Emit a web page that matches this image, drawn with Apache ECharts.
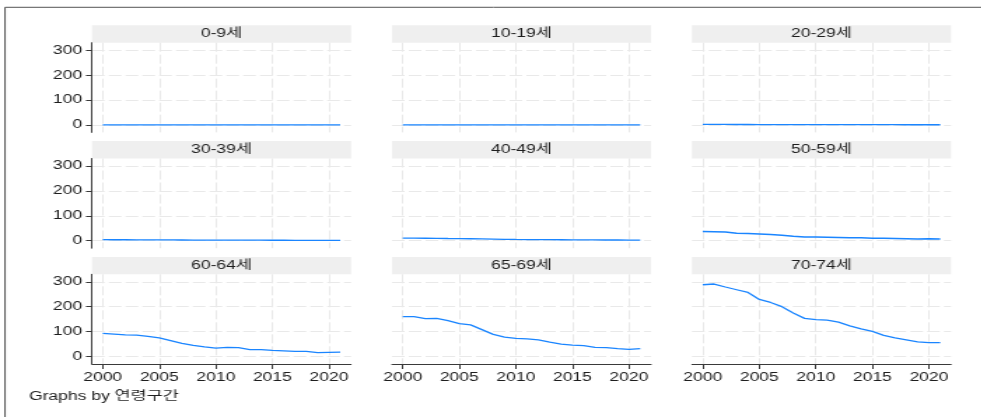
<!DOCTYPE html>
<html>
<head>
<meta charset="utf-8">
<script src="https://cdn.jsdelivr.net/npm/echarts@6/dist/echarts.min.js"></script>
<style>
  html, body { margin: 0; padding: 0; background: #fff; overflow: hidden; }
  /* The figure is laid out narrow and stretched horizontally, giving the wide Stata-style lettering */
  #chart { width: 701.43px; height: 417px; transform: scaleX(1.4); transform-origin: 0 0; }
</style>
</head>
<body>
<div id="chart"></div>
<script>
// ---- data -------------------------------------------------------------
const years = [2000, 2001, 2002, 2003, 2004, 2005, 2006, 2007, 2008, 2009, 2010,
               2011, 2012, 2013, 2014, 2015, 2016, 2017, 2018, 2019, 2020, 2021];

const groups = ['0-9세', '10-19세', '20-29세', '30-39세', '40-49세', '50-59세', '60-64세', '65-69세', '70-74세'];

const age0_9   = [0.5, 0.4, 0.4, 0.4, 0.3, 0.3, 0.3, 0.3, 0.2, 0.2, 0.2, 0.2, 0.2, 0.2, 0.1, 0.1, 0.1, 0.1, 0.1, 0.1, 0.1, 0.1];
const age10_19 = [0.6, 0.6, 0.5, 0.5, 0.5, 0.4, 0.4, 0.4, 0.4, 0.3, 0.3, 0.3, 0.3, 0.3, 0.3, 0.2, 0.2, 0.2, 0.2, 0.2, 0.2, 0.2];
const age20_29 = [2.1, 2.0, 1.9, 1.8, 1.7, 1.6, 1.5, 1.4, 1.3, 1.2, 1.2, 1.1, 1.1, 1.0, 1.0, 0.9, 0.9, 0.9, 0.8, 0.8, 0.8, 0.8];
const age30_39 = [4.2, 4.0, 3.9, 3.7, 3.5, 3.4, 3.2, 3.0, 2.8, 2.6, 2.5, 2.4, 2.3, 2.2, 2.1, 2.0, 1.9, 1.8, 1.7, 1.7, 1.6, 1.6];
const age40_49 = [10.5, 10.2, 10.0, 9.6, 9.0, 8.5, 8.0, 7.2, 6.5, 5.8, 5.2, 4.8, 4.5, 4.2, 3.9, 3.6, 3.4, 3.2, 3.0, 2.9, 2.8, 2.7];
const age50_59 = [37, 36, 35, 30, 29, 27, 25, 22, 18, 15, 15, 14, 13, 12, 12, 10, 10, 9, 8, 7, 8, 7];
const age60_64 = [93, 90, 87, 86, 81, 75, 64, 53, 45, 39, 34, 37, 36, 28, 28, 25, 23, 21, 21, 16, 17, 18];
const age65_69 = [160, 160, 152, 153, 144, 132, 127, 108, 89, 78, 73, 71, 67, 58, 50, 46, 44, 37, 36, 32, 29, 32];
const age70_74 = [288, 291, 279, 268, 257, 229, 217, 200, 175, 153, 148, 146, 138, 123, 111, 101, 85, 75, 67, 59, 56, 56];

const seriesValues = [age0_9, age10_19, age20_29, age30_39, age40_49, age50_59, age60_64, age65_69, age70_74];

const yTicks = [0, 100, 200, 300];
const xTicks = [2000, 2005, 2010, 2015, 2020];
const byLabel = 'Graphs by 연령구간';

// ---- layout -----------------------------------------------------------
const SX = 1.4;                                   // matches the CSS scaleX
const colLeft = [92, 392, 692].map(v => v / SX);  // plot-region left edges
const plotW = 259 / SX;
const rowTop = [42.7, 158.5, 274.3];              // plot-region top edges
const plotH = 89.7;
const stripH = 17.4;

const FONT = '"Liberation Sans", Arial, "Noto Sans CJK KR", sans-serif';
const lineColor = '#1a85ff';
const gridStyle = { color: '#e9e9e9', width: 1, type: [9, 3] };
const axisColor = '#3a3a3a';

const grids = [], xAxes = [], yAxes = [], series = [], graphics = [];

groups.forEach((name, i) => {
  const r = Math.floor(i / 3), c = i % 3;
  const left = colLeft[c], top = rowTop[r];
  const isLeft = c === 0, isBottom = r === 2;

  grids.push({ left: left, top: top, width: plotW, height: plotH });

  xAxes.push({
    type: 'value', gridIndex: i, min: 1999.05, max: 2021.95, position: 'bottom',
    axisLine: { show: isBottom, onZero: false, lineStyle: { color: axisColor, width: 1 } },
    axisTick: { show: isBottom, customValues: xTicks, length: 5, lineStyle: { color: axisColor } },
    axisLabel: { show: isBottom, customValues: xTicks, margin: 7, color: '#1e1e1e',
                 fontFamily: FONT, fontSize: 12.5, formatter: v => String(v) },
    splitLine: { show: true, lineStyle: gridStyle }
  });

  yAxes.push({
    type: 'value', gridIndex: i, min: -30, max: 330, position: 'left',
    axisLine: { show: isLeft, onZero: false, lineStyle: { color: axisColor, width: 1 } },
    axisTick: { show: isLeft, customValues: yTicks, length: 4.3, lineStyle: { color: axisColor } },
    axisLabel: { show: isLeft, customValues: yTicks, margin: 7, color: '#1e1e1e',
                 fontFamily: FONT, fontSize: 12.5 },
    splitLine: { show: true, lineStyle: gridStyle }
  });

  series.push({
    type: 'line', name: name, xAxisIndex: i, yAxisIndex: i,
    data: years.map((y, k) => [y, seriesValues[i][k]]),
    showSymbol: false, smooth: false,
    lineStyle: { color: lineColor, width: 1.3 },
    silent: true
  });

  // panel heading strip
  graphics.push({
    type: 'rect',
    shape: { x: left, y: top - stripH, width: plotW, height: stripH },
    style: { fill: '#efefef' }, silent: true
  });
  graphics.push({
    type: 'text',
    x: left + plotW / 2, y: top - stripH / 2,
    style: { text: name, fill: '#1e1e1e', font: '12.5px ' + FONT, align: 'center', verticalAlign: 'middle' },
    silent: true
  });
});

// note under the panels
graphics.push({
  type: 'text', x: 29 / SX, y: 397,
  style: { text: byLabel, fill: '#1e1e1e', font: '12.5px ' + FONT, align: 'left', verticalAlign: 'middle' },
  silent: true
});

// outer frame (left and top edges)
graphics.push({
  type: 'polyline',
  shape: { points: [[5 / SX, 417], [5 / SX, 7.3], [982 / SX, 7.3]] },
  style: { stroke: '#555', lineWidth: 1, fill: null }, silent: true
});

const chart = echarts.init(document.getElementById('chart'), null, { renderer: 'canvas' });
chart.setOption({
  animation: false,
  backgroundColor: '#fff',
  grid: grids,
  xAxis: xAxes,
  yAxis: yAxes,
  series: series,
  graphic: graphics
});
</script>
</body>
</html>
